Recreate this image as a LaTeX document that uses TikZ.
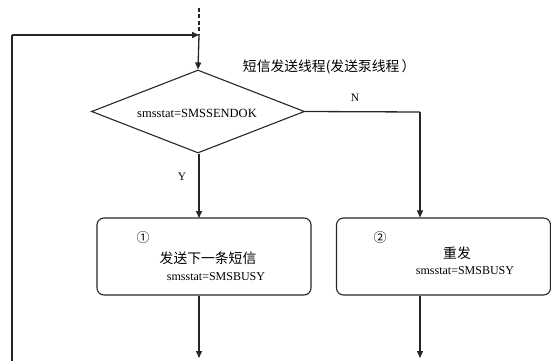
\documentclass[tikz,border=0pt]{standalone}
\usepackage{fontspec}
\setmainfont{Liberation Serif}
\newfontfamily\cjk{Noto Sans CJK SC}
\usetikzlibrary{shapes.geometric,arrows.meta}
\begin{document}
\begin{tikzpicture}[x=1pt,y=-1pt,
  line width=1.3pt,
  conn/.style={draw=black!85, -{Triangle[length=7pt,width=6pt]}},
  plain/.style={draw=black!85},
  decision/.style={diamond, draw=black!85, line width=1.1pt, minimum width=213pt, minimum height=83pt, inner sep=0pt},
  procbox/.style={draw=black!85, line width=1.1pt, rounded corners=7pt, minimum width=214pt, minimum height=77pt, inner sep=0pt},
  lat/.style={font=\fontsize{12}{14}\selectfont},
  zh/.style={font=\cjk\fontsize{13.8}{16}\selectfont},
  lbl/.style={font=\fontsize{11.5}{13}\selectfont},
  circ/.style={font=\cjk\fontsize{13}{15}\selectfont}
]
\useasboundingbox (0,0) rectangle (551,361);
% nodes
\node[decision] (d) at (198,111.5) {};
\node[font=\fontsize{12.5}{14}\selectfont] (dt) at (197,113) {smsstat=SMSSENDOK};
\node[procbox] (b1) at (204,256.5) {};
\node[procbox] (b2) at (443.5,256.5) {};
\node[zh, anchor=west] (title) at (239,67) {短信发送线程(发送泵线程\,）};
\node[lbl] (N) at (355,98) {N};
\node[lbl] (Y) at (182,177) {Y};
\node[circ] (c1) at (143,238) {①};
\node[zh] (t1) at (208,258) {发送下一条短信};
\node[lat] (s1) at (216,277) {smsstat=SMSBUSY};
\node[circ] (c2) at (380,238) {②};
\node[zh] (t2) at (457,253) {重发};
\node[lat] (s2) at (465,271) {smsstat=SMSBUSY};
% coordinates
\coordinate (top) at (199,8);
\coordinate (join) at (199,35);
\coordinate (lb) at (12,361);
\coordinate (lt) at (12,35);
\coordinate (corner) at (420,112);
\coordinate (e1) at (199,358);
\coordinate (e2) at (420,358);
% connectors
\draw[plain, dashed, dash pattern=on 4pt off 2.5pt] (top) -- (join);
\draw[conn] (join) -- (d.north);
\draw[plain, line width=1.2pt] (lb) -- (lt);
\draw[conn] (lt) -- (join);
\draw[conn] (d.south) ++(1,0) -- (199,218);
\draw[plain] (d.east) -- (corner);
\draw[conn] (corner) -- (b2.north -| corner);
\draw[conn] (b1.south -| e1) -- (e1);
\draw[conn] (b2.south -| e2) -- (e2);
\end{tikzpicture}
\end{document}
